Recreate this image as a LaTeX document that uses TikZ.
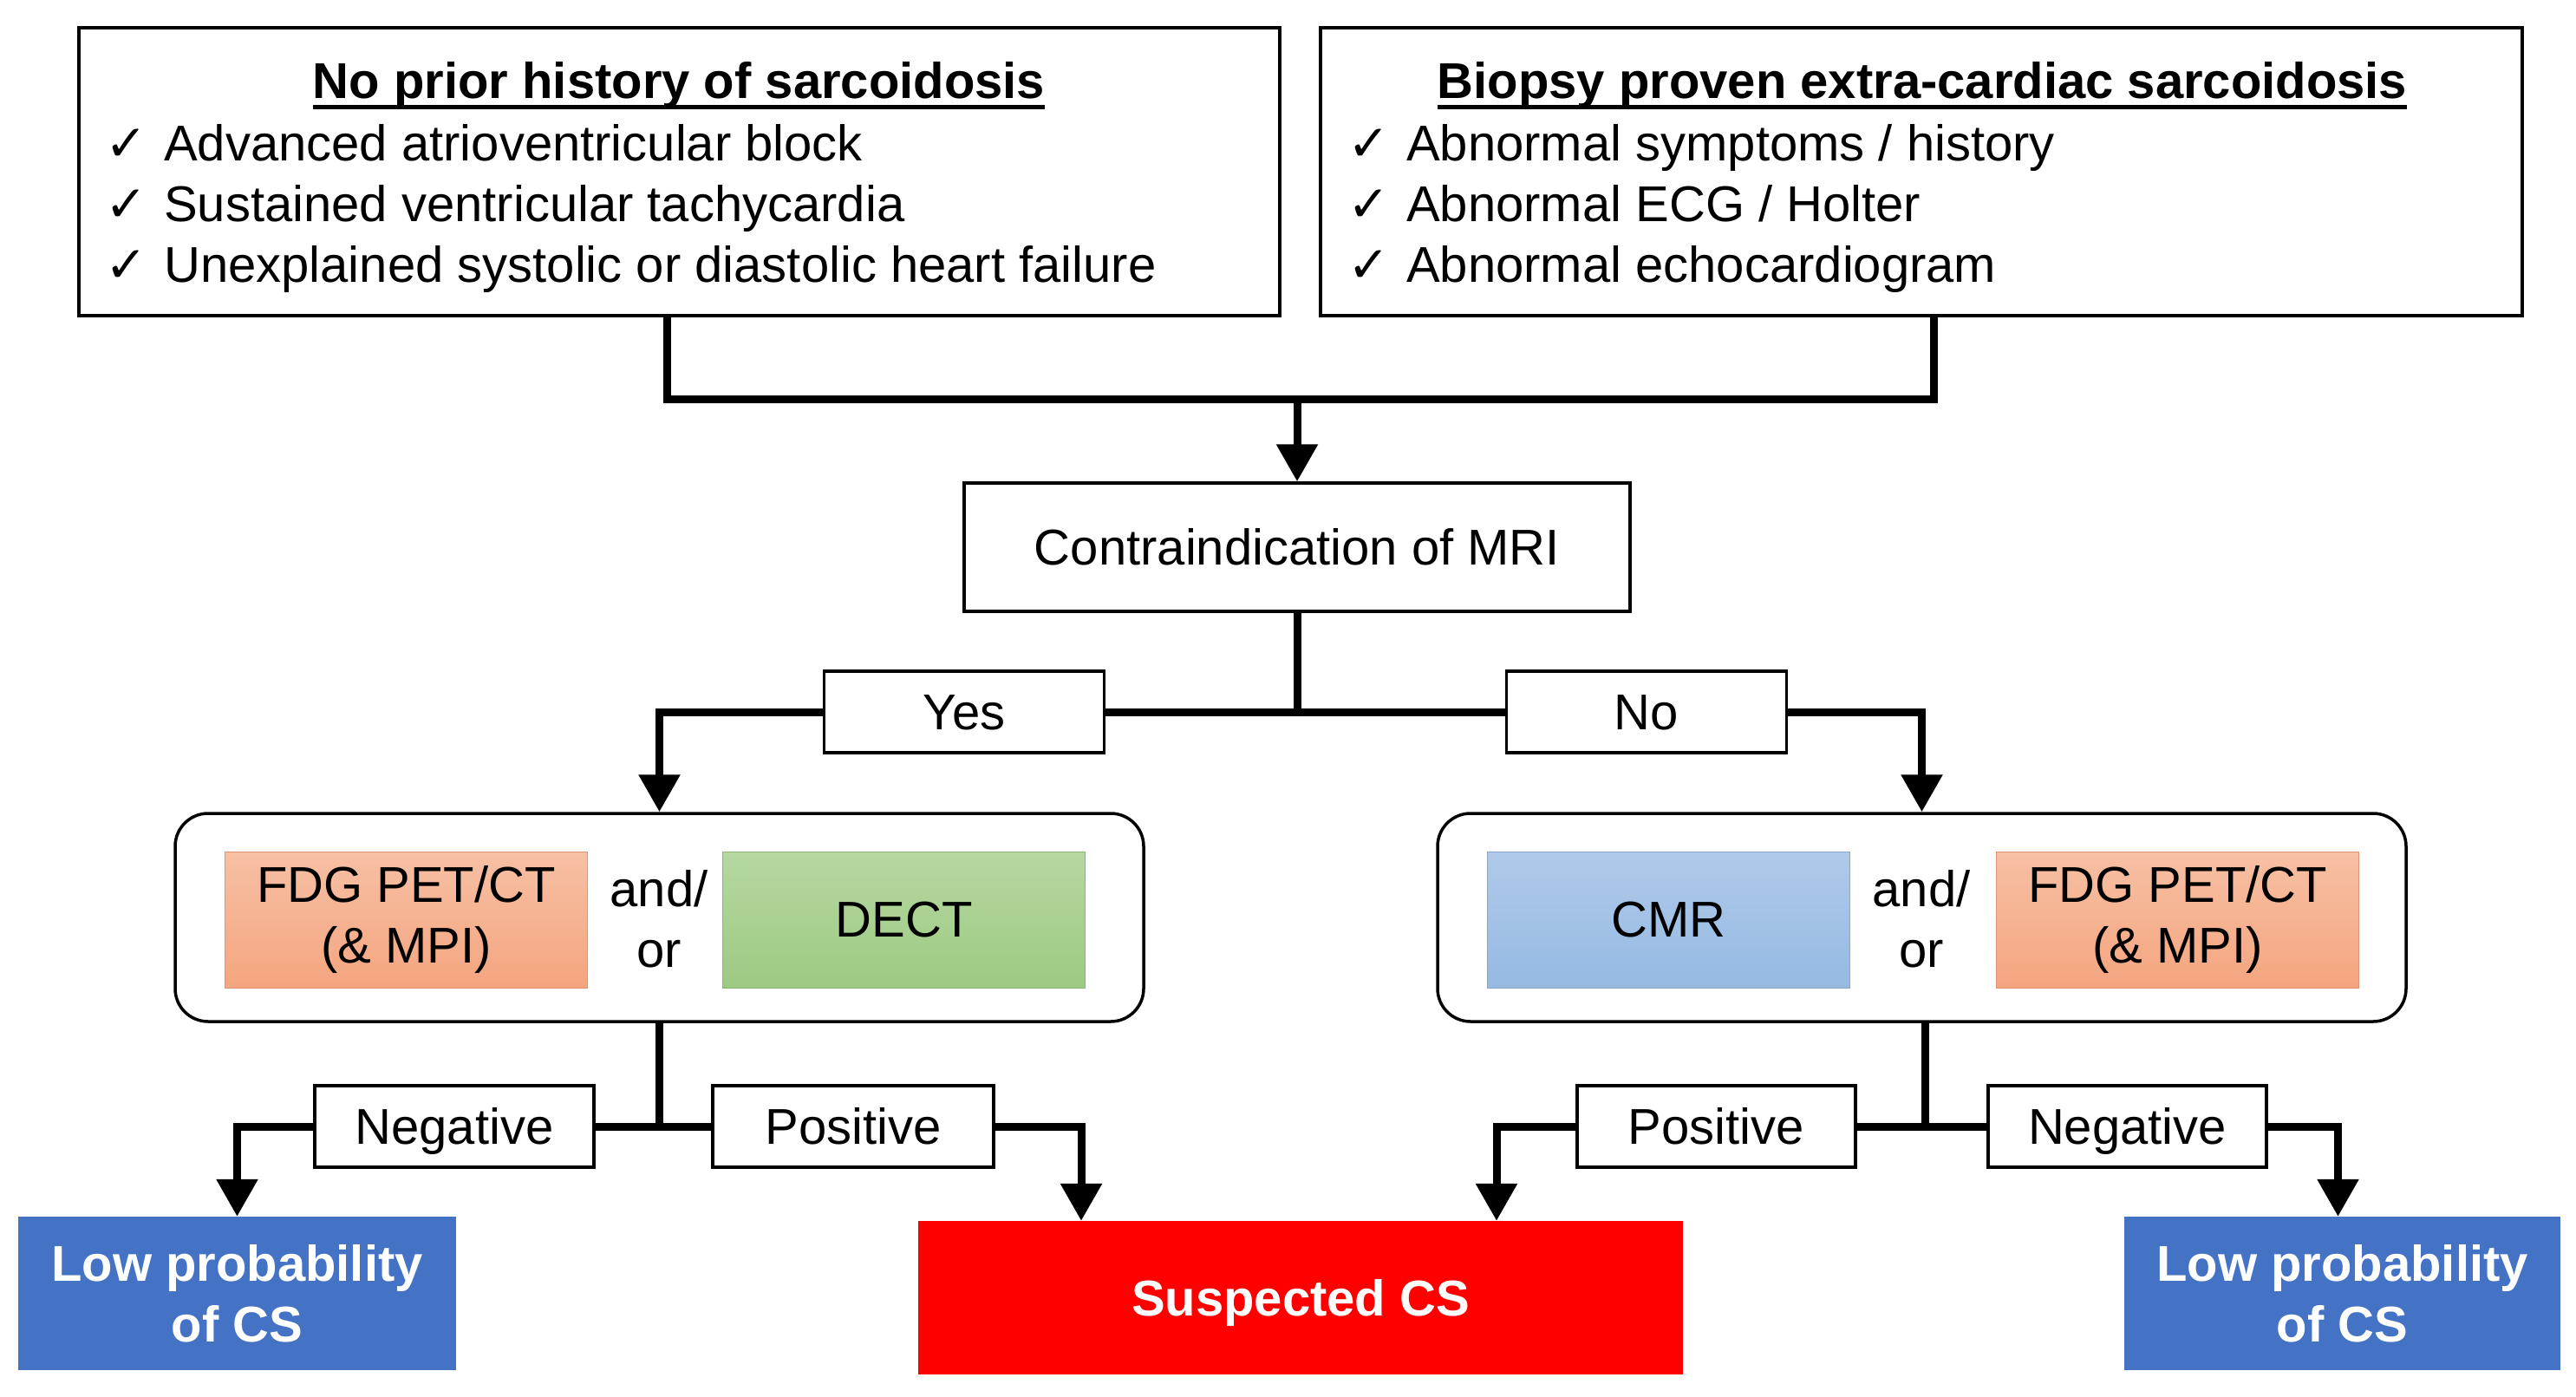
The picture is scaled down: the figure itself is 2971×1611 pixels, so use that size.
\documentclass[tikz,border=0pt]{standalone}
\usepackage{fontspec}
\setmainfont{Liberation Sans}
\newfontfamily\symfont{DejaVu Sans}
\usetikzlibrary{arrows.meta}
\newcommand\ckmark{\makebox[68pt][l]{\symfont ✓}}
\newcommand\myul[1]{\setbox0\hbox{#1}\rlap{\rule[-12pt]{\wd0}{5pt}}\box0}
\definecolor{lowblue}{HTML}{4472C4}
\definecolor{susred}{HTML}{FF0000}
\definecolor{orT}{HTML}{F7C0A4}
\definecolor{orB}{HTML}{F4A57F}
\definecolor{grT}{HTML}{B6D8A1}
\definecolor{grB}{HTML}{9DCA82}
\definecolor{blT}{HTML}{AFCAEA}
\definecolor{blB}{HTML}{96B9E2}
\tikzset{
  base/.style={font=\fontsize{58}{70}\selectfont, inner sep=0pt, align=center},
  oneline/.style={text height=50pt, text depth=8.5pt},
  framebox/.style={base, rectangle, draw=black, line width=3.5pt, fill=white},
  labelbox/.style={framebox, oneline, minimum height=94pt},
  groupbox/.style={base, rectangle, rounded corners=38pt, draw=black, line width=3.5pt, minimum width=1117pt, minimum height=240pt},
  inner/.style={base, rectangle, minimum width=418pt, minimum height=157pt},
  orangebox/.style={inner, top color=orT, bottom color=orB, draw=orB!90!black, line width=1pt},
  greenbox/.style={inner, top color=grT, bottom color=grB, draw=grB!90!black, line width=1pt},
  bluebox/.style={inner, top color=blT, bottom color=blB, draw=blB!90!black, line width=1pt},
  result/.style={base, rectangle, text=white, font=\fontsize{58}{70}\selectfont\bfseries, minimum height=177pt},
  conn/.style={line width=9pt},
  arr/.style={conn, -{Triangle[width=46pt,length=43pt]}}
}
\begin{document}
\begin{tikzpicture}[x=1pt,y=-1pt]
\useasboundingbox[fill=white] (0,0) rectangle (2971,1611);

% top boxes
\node[framebox, minimum width=1385pt, minimum height=332pt] (box1) at (783.5,198) {};
\node[base, font=\fontsize{58}{70}\selectfont\bfseries] (t1) at (783,99) {\myul{No prior history of sarcoidosis}};
\node[base, anchor=west, align=left] (i1) at (121,241) {\ckmark Advanced atrioventricular block\\ \ckmark Sustained ventricular tachycardia\\ \ckmark Unexplained systolic or diastolic heart failure};

\node[framebox, minimum width=1386pt, minimum height=332pt] (box2) at (2216,198) {};
\node[base, font=\fontsize{58}{70}\selectfont\bfseries] (t2) at (2217,99) {\myul{Biopsy proven extra-cardiac sarcoidosis}};
\node[base, anchor=west, align=left] (i2) at (1554,241) {\ckmark Abnormal symptoms / history\\ \ckmark Abnormal ECG / Holter\\ \ckmark Abnormal echocardiogram};

% MRI
\node[framebox, oneline, minimum width=768pt, minimum height=148pt] (mri) at (1496,631) {Contraindication of MRI};
\coordinate (jt) at (1496,460);
\draw[conn] ([xshift=-14.5pt]box1.south) |- (jt) -| ([xshift=14pt]box2.south);
\draw[arr] (jt) -- (mri.north);

% yes / no
\node[labelbox, minimum width=323pt] (yes) at (1112,821) {Yes};
\node[labelbox, minimum width=323pt] (no) at (1899,821) {No};
\draw[conn] (yes.east) -- (no.west);
\draw[conn] (mri.south) -- (mri.south |- yes.east);

% group boxes
\node[groupbox] (lbox) at (760.5,1058) {};
\node[orangebox] (fdg1) at (468.5,1060.5) {FDG PET/CT\\(\& MPI)};
\node[base] (ao1) at (760,1060) {and/\\or};
\node[greenbox] (dect) at (1042.5,1060.5) {DECT};

\node[groupbox] (rbox) at (2216.5,1058) {};
\node[bluebox] (cmr) at (1924.5,1060.5) {CMR};
\node[base] (ao2) at (2216,1060) {and/\\or};
\node[orangebox] (fdg2) at (2511.5,1060.5) {FDG PET/CT\\(\& MPI)};

\draw[arr] (yes.west) -| (lbox.north);
\draw[arr] (no.east) -| (rbox.north);

% results
\node[result, fill=lowblue, minimum width=505pt] (low1) at (273.5,1491.5) {Low probability\\of CS};
\node[result, oneline, fill=susred, minimum width=882pt] (sus) at (1500,1496.5) {Suspected CS};
\node[result, fill=lowblue, minimum width=503pt] (low2) at (2701.5,1491.5) {Low probability\\of CS};

% left bottom branch
\node[labelbox, minimum width=322pt] (neg1) at (524,1299) {Negative};
\node[labelbox, minimum width=324pt] (pos1) at (984,1299) {Positive};
\draw[conn] (neg1.east) -- (pos1.west);
\draw[conn] (lbox.south) -- (lbox.south |- neg1.east);
\draw[arr] (neg1.west) -| (low1.north);
\draw[arr] (pos1.east) -| ([xshift=-253pt]sus.north);

% right bottom branch
\node[labelbox, minimum width=321pt] (pos2) at (1979.5,1299) {Positive};
\node[labelbox, minimum width=321pt] (neg2) at (2453.5,1299) {Negative};
\draw[conn] (pos2.east) -- (neg2.west);
\draw[conn] ([xshift=4pt]rbox.south) -- ([xshift=4pt]rbox.south |- pos2.east);
\draw[arr] (pos2.west) -| ([xshift=226pt]sus.north);
\draw[arr] (neg2.east) -| ([xshift=-5pt]low2.north);
\end{tikzpicture}
\end{document}
